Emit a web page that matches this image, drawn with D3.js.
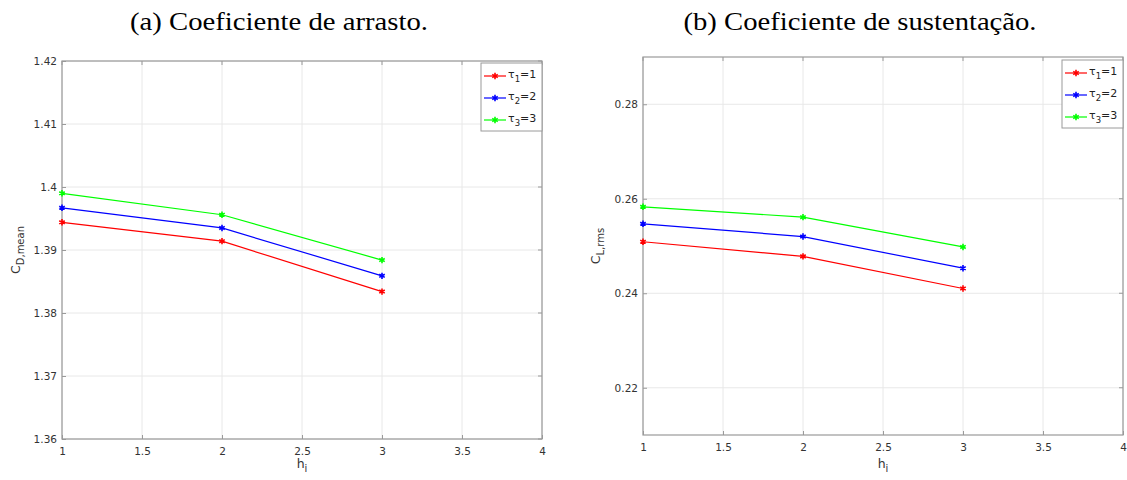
<!DOCTYPE html>
<html><head><meta charset="utf-8">
<script src="https://cdn.jsdelivr.net/npm/d3@7"></script>
<style>body{margin:0;background:#fff}svg{display:block}</style>
</head><body>
<svg id="c" width="1127" height="480"></svg>
<script>
const hValues = [1, 2, 3];
const xTicks = [1, 1.5, 2, 2.5, 3, 3.5, 4];
const seriesNames = ["1", "2", "3"];
const seriesColors = ["#ff0000", "#0000ff", "#00ff00"];
// (a) drag coefficient
const cdTau1 = [1.3944, 1.3914, 1.3834];
const cdTau2 = [1.3967, 1.3935, 1.3859];
const cdTau3 = [1.3990, 1.3956, 1.3884];
const cdTicks = [1.36, 1.37, 1.38, 1.39, 1.40, 1.41, 1.42];
const cdTickLabels = ["1.36", "1.37", "1.38", "1.39", "1.4", "1.41", "1.42"];
// (b) lift coefficient
const clTau1 = [0.2509, 0.2478, 0.2410];
const clTau2 = [0.2547, 0.2520, 0.2453];
const clTau3 = [0.2583, 0.2561, 0.2498];
const clTicks = [0.22, 0.24, 0.26, 0.28];
const clTickLabels = ["0.22", "0.24", "0.26", "0.28"];

const svg = d3.select("#c");
const tickFont = "DejaVu Sans, sans-serif";

function panel(cfg) {
  const g = svg.append("g");
  const x = d3.scaleLinear().domain([1, 4]).range([cfg.left, cfg.right]);
  const y = d3.scaleLinear().domain(cfg.ydom).range([cfg.bottom, cfg.top]);
  // title
  svg.append("text").attr("x", cfg.titleX).attr("y", 30)
    .attr("text-anchor", "middle").attr("font-family", "Liberation Serif, serif")
    .attr("font-size", 25).attr("fill", "#000")
    .attr("textLength", cfg.titleW).attr("lengthAdjust", "spacingAndGlyphs").text(cfg.title);
  // grid
  g.append("g").selectAll("line").data(xTicks).join("line")
    .attr("x1", d => x(d)).attr("x2", d => x(d)).attr("y1", cfg.top).attr("y2", cfg.bottom)
    .attr("stroke", "#e8e8e8").attr("stroke-width", 1);
  g.append("g").selectAll("line").data(cfg.yticks).join("line")
    .attr("y1", d => y(d)).attr("y2", d => y(d)).attr("x1", cfg.left).attr("x2", cfg.right)
    .attr("stroke", "#e8e8e8").attr("stroke-width", 1);
  // axes
  const xa = g.append("g").attr("transform", `translate(0,${cfg.bottom})`)
    .call(d3.axisBottom(x).tickValues(xTicks).tickSize(-4).tickPadding(9).tickFormat(d3.format("")));
  const ya = g.append("g").attr("transform", `translate(${cfg.left},0)`)
    .call(d3.axisLeft(y).tickValues(cfg.yticks).tickSize(-4).tickPadding(5)
      .tickFormat((d, i) => cfg.ylabels[i]));
  [xa, ya].forEach(a => {
    a.select(".domain").remove();
    a.selectAll("line").attr("stroke", "#9a9a9a");
    a.selectAll("text").attr("font-family", tickFont).attr("font-size", 10.5).attr("fill", "#333");
  });
  // right/top ticks
  g.append("g").selectAll("line").data(cfg.yticks).join("line")
    .attr("x1", cfg.right).attr("x2", cfg.right - 4).attr("y1", d => y(d)).attr("y2", d => y(d))
    .attr("stroke", "#9a9a9a");
  g.append("g").selectAll("line").data(xTicks).join("line")
    .attr("y1", cfg.top).attr("y2", cfg.top + 4).attr("x1", d => x(d)).attr("x2", d => x(d))
    .attr("stroke", "#9a9a9a");
  // box
  g.append("rect").attr("x", cfg.left).attr("y", cfg.top)
    .attr("width", cfg.right - cfg.left).attr("height", cfg.bottom - cfg.top)
    .attr("fill", "none").attr("stroke", "#9a9a9a").attr("stroke-width", 1.2);
  // series
  const line = d3.line().x((d, i) => x(hValues[i])).y(d => y(d));
  const sym = d3.symbol().type(d3.symbolAsterisk).size(28);
  cfg.series.forEach((s, k) => {
    g.append("path").datum(s).attr("d", line).attr("fill", "none")
      .attr("stroke", seriesColors[k]).attr("stroke-width", 1.2);
    g.append("g").selectAll("path").data(s).join("path")
      .attr("transform", (d, i) => `translate(${x(hValues[i])},${y(d)})`)
      .attr("d", sym).attr("fill", "none").attr("stroke", seriesColors[k]).attr("stroke-width", 1.6);
  });
  // axis labels
  const xl = svg.append("text").attr("x", (cfg.left + cfg.right) / 2).attr("y", 468)
    .attr("text-anchor", "middle").attr("font-family", tickFont).attr("font-size", 12.5).attr("fill", "#333");
  xl.append("tspan").text("h");
  xl.append("tspan").attr("dy", 4).attr("font-size", 10).text("i");
  const yl = svg.append("text")
    .attr("transform", `translate(${cfg.ylabX},${(cfg.top + cfg.bottom) / 2}) rotate(-90)`)
    .attr("text-anchor", "middle").attr("font-family", tickFont).attr("font-size", 12.5).attr("fill", "#333");
  yl.append("tspan").text("C");
  yl.append("tspan").attr("dy", 4).attr("font-size", 10).text(cfg.ysub);
  // legend
  const lg = g.append("g");
  lg.append("rect").attr("x", cfg.lgX).attr("y", cfg.lgY).attr("width", 61).attr("height", 68)
    .attr("fill", "#fff").attr("stroke", "#9a9a9a").attr("stroke-width", 1);
  seriesNames.forEach((n, k) => {
    const yy = cfg.lgY + 13 + k * 22;
    lg.append("line").attr("x1", cfg.lgX + 3).attr("x2", cfg.lgX + 25).attr("y1", yy).attr("y2", yy)
      .attr("stroke", seriesColors[k]).attr("stroke-width", 1.2);
    lg.append("path").attr("transform", `translate(${cfg.lgX + 14},${yy})`).attr("d", sym)
      .attr("fill", "none").attr("stroke", seriesColors[k]).attr("stroke-width", 1.6);
    const t = lg.append("text").attr("x", cfg.lgX + 27).attr("y", yy + 2)
      .attr("font-family", tickFont).attr("font-size", 11).attr("fill", "#222");
    t.append("tspan").text("τ");
    t.append("tspan").attr("dy", 4).attr("font-size", 8.5).text(n);
    t.append("tspan").attr("dy", -4).text("=" + n);
  });
}

panel({left: 62, right: 542, top: 61, bottom: 439, ydom: [1.36, 1.42],
  yticks: cdTicks, ylabels: cdTickLabels, series: [cdTau1, cdTau2, cdTau3],
  title: "(a) Coeficiente de arrasto.", titleX: 279, titleW: 298,
  ysub: "D,mean", ylabX: 20, lgX: 481, lgY: 63});
panel({left: 643, right: 1123, top: 57, bottom: 435, ydom: [0.21, 0.29],
  yticks: clTicks, ylabels: clTickLabels, series: [clTau1, clTau2, clTau3],
  title: "(b) Coeficiente de sustentação.", titleX: 860, titleW: 353,
  ysub: "L,rms", ylabX: 600, lgX: 1062, lgY: 60});
</script>
</body></html>
